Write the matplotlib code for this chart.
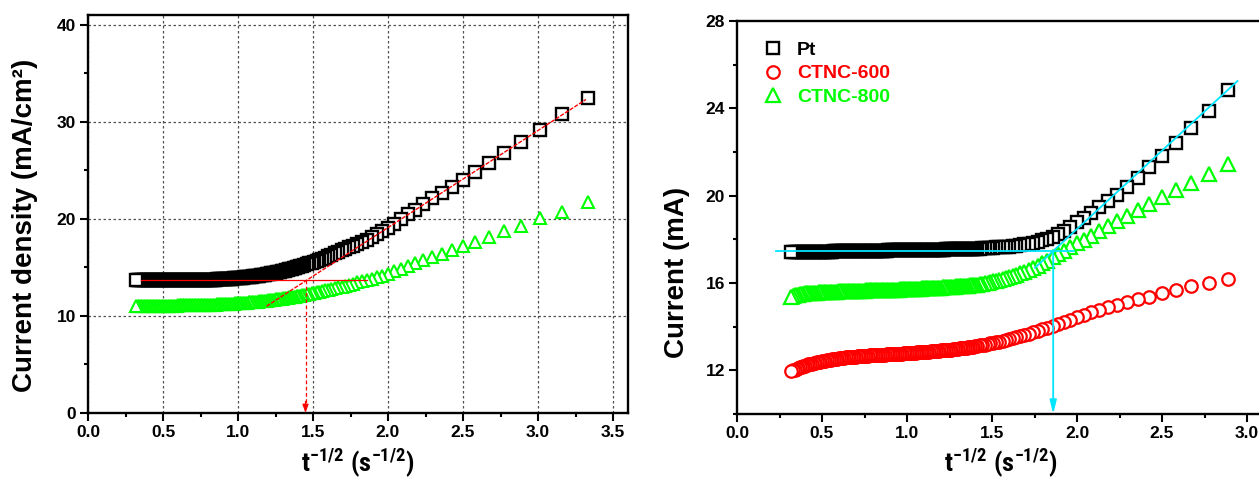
import matplotlib
matplotlib.use("Agg")
import matplotlib.pyplot as plt
from matplotlib import font_manager
from matplotlib.ticker import MultipleLocator, FormatStrFormatter


def font_available(name):
    try:
        font_manager.findfont(font_manager.FontProperties(family=name),
                              fallback_to_default=False)
        return True
    except Exception:
        return False


BASE_FONT = "Liberation Sans"
NARROW_FONT = BASE_FONT
for candidate in ("Liberation Sans Narrow", "Roboto Condensed",
                  "Open Sans Condensed", "DejaVu Sans Condensed"):
    if font_available(candidate):
        NARROW_FONT = candidate
        break

plt.rcParams["font.family"] = [BASE_FONT, "DejaVu Sans"]
plt.rcParams["font.weight"] = "bold"
plt.rcParams["mathtext.fontset"] = "custom"
plt.rcParams["mathtext.rm"] = NARROW_FONT + ":bold"
plt.rcParams["mathtext.bf"] = NARROW_FONT + ":bold"
plt.rcParams["mathtext.it"] = NARROW_FONT + ":bold"

# ---------------------------------------------------------------------------
# Data: t^-1/2 (s^-1/2) on x, listed in acquisition order (decreasing x)
# ---------------------------------------------------------------------------
x_density = [
    3.333, 3.162, 3.015, 2.887, 2.774, 2.673, 2.582, 2.500, 2.425, 2.357,
    2.294, 2.236, 2.182, 2.132, 2.085, 2.041, 2.000, 1.961, 1.925, 1.890,
    1.857, 1.826, 1.796, 1.768, 1.741, 1.715, 1.690, 1.667, 1.644, 1.622,
    1.601, 1.581, 1.562, 1.543, 1.525, 1.508, 1.491, 1.474, 1.459, 1.443,
    1.429, 1.414,
    1.40, 1.39, 1.38, 1.37, 1.36, 1.35, 1.34, 1.33, 1.32, 1.31,
    1.30, 1.29, 1.28, 1.27, 1.26, 1.25, 1.24, 1.23, 1.22, 1.21,
    1.20, 1.19, 1.18, 1.17, 1.16, 1.15, 1.14, 1.13, 1.12, 1.11,
    1.10, 1.09, 1.08, 1.07, 1.06, 1.05, 1.04, 1.03, 1.02, 1.01,
    1.00, 0.99, 0.98, 0.97, 0.96, 0.95, 0.94, 0.93, 0.92, 0.91,
    0.90, 0.89, 0.88, 0.87, 0.86, 0.85, 0.84, 0.83, 0.82, 0.81,
    0.80, 0.79, 0.78, 0.77, 0.76, 0.75, 0.74, 0.73, 0.72, 0.71,
    0.70, 0.69, 0.68, 0.67, 0.66, 0.65, 0.64, 0.63, 0.62, 0.61,
    0.60, 0.59, 0.58, 0.57, 0.56, 0.55, 0.54, 0.53, 0.52, 0.51,
    0.50, 0.49, 0.48, 0.47, 0.46, 0.45, 0.44, 0.43, 0.42, 0.41,
    0.40, 0.39, 0.38, 0.37, 0.36, 0.35, 0.34, 0.33, 0.32,
]

# Current density (mA/cm2)
jd_pt = [
    32.5, 30.8, 29.2, 27.9, 26.75, 25.75, 24.85, 24.0, 23.3, 22.7,
    22.1, 21.5, 20.95, 20.45, 19.95, 19.45, 19.05, 18.7, 18.4, 18.1,
    17.85, 17.65, 17.45, 17.25, 17.05, 16.9, 16.75, 16.6, 16.45, 16.3,
    16.15, 16.0, 15.9, 15.8, 15.7, 15.6, 15.5, 15.42, 15.35, 15.25,
    15.18, 15.1,
    15.05, 15.0, 14.95, 14.91, 14.87, 14.83, 14.79, 14.75, 14.71, 14.67,
    14.64, 14.6, 14.57, 14.53, 14.5, 14.47, 14.44, 14.41, 14.38, 14.35,
    14.32, 14.29, 14.26, 14.23, 14.21, 14.18, 14.16, 14.13, 14.11, 14.09,
    14.07, 14.05, 14.03, 14.01, 13.99, 13.97, 13.96, 13.94, 13.93, 13.91,
    13.9, 13.88, 13.87, 13.86, 13.85, 13.84, 13.83, 13.82, 13.81, 13.8,
    13.79, 13.78, 13.77, 13.76, 13.76, 13.75, 13.75, 13.74, 13.74, 13.73,
    13.73, 13.72, 13.72, 13.71, 13.71, 13.7, 13.7, 13.7, 13.7, 13.69,
    13.69, 13.69, 13.69, 13.68, 13.68, 13.68, 13.68, 13.68, 13.68, 13.67,
    13.67, 13.67, 13.67, 13.67, 13.67, 13.67, 13.67, 13.66, 13.66, 13.66,
    13.66, 13.66, 13.66, 13.66, 13.66, 13.66, 13.66, 13.66, 13.66, 13.66,
    13.66, 13.66, 13.67, 13.67, 13.68, 13.69, 13.7, 13.71, 13.72,
]
jd_ctnc800 = [
    21.7, 20.75, 20.05, 19.3, 18.7, 18.1, 17.6, 17.2, 16.8, 16.4,
    16.1, 15.75, 15.45, 15.15, 14.85, 14.6, 14.35, 14.15, 14.0, 13.85,
    13.72, 13.58, 13.45, 13.33, 13.22, 13.12, 13.02, 12.93, 12.85, 12.77,
    12.7, 12.63, 12.56, 12.5, 12.44, 12.38, 12.33, 12.28, 12.23, 12.18,
    12.14, 12.1,
    12.06, 12.03, 12.0, 11.97, 11.95, 11.92, 11.9, 11.87, 11.85, 11.82,
    11.8, 11.78, 11.76, 11.74, 11.72, 11.7, 11.68, 11.66, 11.64, 11.62,
    11.6, 11.58, 11.56, 11.54, 11.53, 11.51, 11.5, 11.48, 11.47, 11.45,
    11.44, 11.42, 11.41, 11.39, 11.38, 11.37, 11.36, 11.34, 11.33, 11.32,
    11.31, 11.3, 11.29, 11.28, 11.27, 11.26, 11.25, 11.24, 11.23, 11.22,
    11.21, 11.2, 11.2, 11.19, 11.18, 11.17, 11.17, 11.16, 11.16, 11.15,
    11.15, 11.14, 11.14, 11.13, 11.13, 11.12, 11.12, 11.11, 11.11, 11.1,
    11.1, 11.1, 11.1, 11.09, 11.09, 11.09, 11.09, 11.08, 11.08, 11.08,
    11.08, 11.07, 11.07, 11.07, 11.07, 11.07, 11.07, 11.06, 11.06, 11.06,
    11.06, 11.06, 11.06, 11.06, 11.06, 11.05, 11.05, 11.05, 11.05, 11.05,
    11.05, 11.05, 11.05, 11.05, 11.05, 11.04, 11.04, 11.02, 11.0,
]

# Guide lines on the current-density panel
density_fit_x = [1.19, 3.32]
density_fit_y = [11.0, 32.3]
density_plateau_x = [0.35, 1.86]
density_plateau_y = 13.7
density_cross_x = 1.45

x_current = [
    2.887, 2.774, 2.673, 2.582, 2.500, 2.425, 2.357, 2.294, 2.236, 2.182,
    2.132, 2.085, 2.041, 2.000, 1.961, 1.925, 1.890, 1.857, 1.826, 1.796,
    1.768, 1.741, 1.715, 1.690, 1.667, 1.644, 1.622, 1.601, 1.581, 1.562,
    1.543, 1.525, 1.508, 1.491, 1.474, 1.459, 1.443, 1.429, 1.414,
    1.40, 1.39, 1.38, 1.37, 1.36, 1.35, 1.34, 1.33, 1.32, 1.31,
    1.30, 1.29, 1.28, 1.27, 1.26, 1.25, 1.24, 1.23, 1.22, 1.21,
    1.20, 1.19, 1.18, 1.17, 1.16, 1.15, 1.14, 1.13, 1.12, 1.11,
    1.10, 1.09, 1.08, 1.07, 1.06, 1.05, 1.04, 1.03, 1.02, 1.01,
    1.00, 0.99, 0.98, 0.97, 0.96, 0.95, 0.94, 0.93, 0.92, 0.91,
    0.90, 0.89, 0.88, 0.87, 0.86, 0.85, 0.84, 0.83, 0.82, 0.81,
    0.80, 0.79, 0.78, 0.77, 0.76, 0.75, 0.74, 0.73, 0.72, 0.71,
    0.70, 0.69, 0.68, 0.67, 0.66, 0.65, 0.64, 0.63, 0.62, 0.61,
    0.60, 0.59, 0.58, 0.57, 0.56, 0.55, 0.54, 0.53, 0.52, 0.51,
    0.50, 0.49, 0.48, 0.47, 0.46, 0.45, 0.44, 0.43, 0.42, 0.41,
    0.40, 0.39, 0.38, 0.37, 0.36, 0.35, 0.34, 0.33, 0.32,
]

# Current (mA)
i_pt = [
    24.85, 23.9, 23.1, 22.4, 21.8, 21.3, 20.8, 20.4, 20.05, 19.75,
    19.48, 19.22, 18.98, 18.78, 18.58, 18.4, 18.25, 18.12, 18.03, 17.96,
    17.9, 17.85, 17.8, 17.77, 17.74, 17.71, 17.69, 17.67, 17.66, 17.65,
    17.64, 17.63, 17.62, 17.61, 17.6, 17.6, 17.59, 17.58, 17.58,
    17.57, 17.57, 17.57, 17.56, 17.56, 17.56, 17.56, 17.55, 17.55, 17.55,
    17.55, 17.55, 17.54, 17.54, 17.54, 17.54, 17.54, 17.54, 17.53, 17.53,
    17.53, 17.53, 17.53, 17.53, 17.52, 17.52, 17.52, 17.52, 17.52, 17.52,
    17.51, 17.51, 17.51, 17.51, 17.51, 17.51, 17.5, 17.5, 17.5, 17.5,
    17.5, 17.5, 17.5, 17.5, 17.49, 17.49, 17.49, 17.49, 17.49, 17.49,
    17.49, 17.49, 17.48, 17.48, 17.48, 17.48, 17.48, 17.48, 17.48, 17.48,
    17.47, 17.47, 17.47, 17.47, 17.47, 17.47, 17.47, 17.47, 17.46, 17.46,
    17.46, 17.46, 17.46, 17.46, 17.46, 17.46, 17.45, 17.45, 17.45, 17.45,
    17.45, 17.45, 17.45, 17.45, 17.44, 17.44, 17.44, 17.44, 17.44, 17.44,
    17.44, 17.44, 17.43, 17.43, 17.43, 17.43, 17.43, 17.43, 17.43, 17.43,
    17.42, 17.42, 17.42, 17.42, 17.42, 17.42, 17.42, 17.42, 17.42,
]
i_ctnc600 = [
    16.2, 16.02, 15.86, 15.68, 15.52, 15.38, 15.25, 15.13, 15.01, 14.89,
    14.77, 14.65, 14.54, 14.43, 14.32, 14.22, 14.13, 14.04, 13.96, 13.88,
    13.81, 13.74, 13.68, 13.62, 13.57, 13.52, 13.47, 13.43, 13.39, 13.35,
    13.32, 13.29, 13.26, 13.23, 13.2, 13.18, 13.16, 13.14, 13.12,
    13.1, 13.08, 13.07, 13.06, 13.05, 13.04, 13.03, 13.02, 13.01, 13.0,
    12.99, 12.98, 12.97, 12.96, 12.95, 12.94, 12.94, 12.93, 12.92, 12.91,
    12.91, 12.9, 12.89, 12.88, 12.88, 12.87, 12.87, 12.86, 12.85, 12.84,
    12.84, 12.83, 12.83, 12.82, 12.82, 12.81, 12.81, 12.8, 12.8, 12.79,
    12.79, 12.78, 12.78, 12.77, 12.77, 12.76, 12.76, 12.75, 12.75, 12.74,
    12.74, 12.73, 12.73, 12.72, 12.72, 12.71, 12.71, 12.7, 12.7, 12.69,
    12.69, 12.68, 12.68, 12.67, 12.67, 12.66, 12.66, 12.65, 12.65, 12.64,
    12.63, 12.62, 12.62, 12.61, 12.6, 12.59, 12.59, 12.58, 12.57, 12.56,
    12.55, 12.54, 12.53, 12.52, 12.51, 12.49, 12.48, 12.46, 12.45, 12.43,
    12.42, 12.4, 12.39, 12.37, 12.35, 12.33, 12.31, 12.29, 12.27, 12.25,
    12.22, 12.19, 12.16, 12.13, 12.1, 12.07, 12.03, 12.0, 11.97,
]
i_ctnc800 = [
    21.45, 21.0, 20.6, 20.25, 19.92, 19.62, 19.33, 19.05, 18.82, 18.6,
    18.38, 18.17, 17.98, 17.82, 17.65, 17.48, 17.32, 17.17, 17.03, 16.9,
    16.79, 16.69, 16.6, 16.52, 16.45, 16.38, 16.32, 16.27, 16.22, 16.18,
    16.14, 16.1, 16.07, 16.04, 16.01, 15.99, 15.97, 15.95, 15.93,
    15.92, 15.91, 15.9, 15.89, 15.88, 15.88, 15.87, 15.86, 15.85, 15.85,
    15.84, 15.84, 15.83, 15.83, 15.82, 15.82, 15.81, 15.81, 15.8, 15.8,
    15.79, 15.79, 15.78, 15.78, 15.77, 15.77, 15.76, 15.76, 15.76, 15.75,
    15.75, 15.75, 15.74, 15.74, 15.74, 15.73, 15.73, 15.73, 15.72, 15.72,
    15.72, 15.72, 15.71, 15.71, 15.71, 15.7, 15.7, 15.7, 15.7, 15.69,
    15.69, 15.69, 15.69, 15.68, 15.68, 15.68, 15.68, 15.67, 15.67, 15.67,
    15.67, 15.66, 15.66, 15.66, 15.66, 15.65, 15.65, 15.65, 15.65, 15.64,
    15.64, 15.64, 15.64, 15.63, 15.63, 15.63, 15.63, 15.62, 15.62, 15.62,
    15.62, 15.61, 15.61, 15.6, 15.6, 15.6, 15.6, 15.59, 15.59, 15.58,
    15.58, 15.57, 15.57, 15.56, 15.56, 15.55, 15.55, 15.54, 15.54, 15.53,
    15.52, 15.51, 15.5, 15.49, 15.47, 15.45, 15.43, 15.41, 15.38,
]

# Guide lines on the current panel
current_fit_x = [1.753, 2.944]
current_fit_y = [16.7, 25.25]
current_plateau_x = [0.23, 1.98]
current_plateau_y = 17.47
current_cross_x = 1.86

series_labels = ["Pt", "CTNC-600", "CTNC-800"]

BLACK = "#000000"
RED = "#FF0000"
GREEN = "#00FF00"
CYAN = "#00E5FF"

XLABEL = r"$\mathbf{t^{-1/2}\ (s^{-1/2})}$"
XLABEL_SIZE = 16.5 if NARROW_FONT == BASE_FONT else 19

# ---------------------------------------------------------------------------
fig = plt.figure(figsize=(12.59, 4.90), dpi=100)
W, H = 1259.0, 490.0
ax1 = fig.add_axes([88 / W, 77 / H, 540 / W, 398 / H])
ax2 = fig.add_axes([737 / W, 76 / H, 527 / W, 393 / H])


def style_axes(ax):
    for side in ("top", "right", "bottom", "left"):
        ax.spines[side].set_linewidth(1.7)
    ax.tick_params(which="major", direction="out", length=5.5, width=1.5,
                   labelsize=12.5, pad=3, top=False, right=False)
    ax.tick_params(which="minor", direction="out", length=3.0, width=1.5,
                   top=False, right=False)
    for lbl in ax.get_xticklabels() + ax.get_yticklabels():
        lbl.set_fontweight("bold")


# ---- left panel: current density ----
ax1.set_xlim(0, 3.6)
ax1.set_ylim(0, 41)
ax1.xaxis.set_major_locator(MultipleLocator(0.5))
ax1.xaxis.set_minor_locator(MultipleLocator(0.25))
ax1.yaxis.set_major_locator(MultipleLocator(10))
ax1.yaxis.set_minor_locator(MultipleLocator(5))
ax1.xaxis.set_major_formatter(FormatStrFormatter("%.1f"))
ax1.yaxis.set_major_formatter(FormatStrFormatter("%d"))
ax1.grid(True, which="major", color="#505050", linestyle=(0, (2, 2)),
         linewidth=0.9)
ax1.set_axisbelow(True)

ax1.plot(x_density, jd_pt, linestyle="none", marker="s", markersize=8.5,
         markeredgewidth=1.7, markeredgecolor=BLACK, markerfacecolor="white",
         color=BLACK, zorder=3)
ax1.plot(x_density, jd_ctnc800, linestyle="none", marker="^", markersize=9,
         markeredgewidth=1.5, markeredgecolor=GREEN, markerfacecolor="white",
         color=GREEN, zorder=3)

ax1.plot(density_plateau_x, [density_plateau_y, density_plateau_y],
         color=RED, linewidth=0.9, zorder=4)
ax1.plot(density_fit_x, density_fit_y, color=RED, linewidth=1.0,
         linestyle=(0, (3, 1)), zorder=4)
ax1.plot([density_cross_x, density_cross_x], [density_plateau_y, 1.0],
         color=RED, linewidth=0.9, linestyle=(0, (3, 2)), zorder=4)
ax1.annotate("", xy=(density_cross_x, 0.0), xytext=(density_cross_x, 1.2),
             arrowprops=dict(arrowstyle="-|>,head_width=0.18,head_length=0.5",
                             color=RED, lw=0.9, shrinkA=0, shrinkB=0),
             zorder=4)

ax1.set_ylabel("Current density (mA/cm\u00b2)", fontsize=20,
               fontweight="bold")
ax1.yaxis.set_label_coords(-0.093, 0.472)
ax1.set_xlabel(XLABEL, fontsize=XLABEL_SIZE)
ax1.xaxis.set_label_coords(0.5, -0.083)
style_axes(ax1)

# ---- right panel: current ----
ax2.set_xlim(0, 3.1)
ax2.set_ylim(10, 28)
ax2.xaxis.set_major_locator(MultipleLocator(0.5))
ax2.xaxis.set_minor_locator(MultipleLocator(0.25))
ax2.yaxis.set_major_locator(MultipleLocator(4))
ax2.yaxis.set_minor_locator(MultipleLocator(2))
ax2.xaxis.set_major_formatter(FormatStrFormatter("%.1f"))
ax2.yaxis.set_major_formatter(FormatStrFormatter("%d"))

h_pt, = ax2.plot(x_current, i_pt, linestyle="none", marker="s",
                 markersize=8.5, markeredgewidth=1.7, markeredgecolor=BLACK,
                 markerfacecolor="white", color=BLACK, zorder=3,
                 label=series_labels[0])
h_600, = ax2.plot(x_current, i_ctnc600, linestyle="none", marker="o",
                  markersize=9, markeredgewidth=1.6, markeredgecolor=RED,
                  markerfacecolor="white", color=RED, zorder=3,
                  label=series_labels[1])
h_800, = ax2.plot(x_current, i_ctnc800, linestyle="none", marker="^",
                  markersize=10, markeredgewidth=1.6, markeredgecolor=GREEN,
                  markerfacecolor="white", color=GREEN, zorder=3,
                  label=series_labels[2])

ax2.plot(current_plateau_x, [current_plateau_y, current_plateau_y],
         color=CYAN, linewidth=1.3, zorder=4)
ax2.plot(current_fit_x, current_fit_y, color=CYAN, linewidth=1.3, zorder=4)
ax2.annotate("", xy=(current_cross_x, 10.0),
             xytext=(current_cross_x, current_plateau_y),
             arrowprops=dict(arrowstyle="-|>,head_width=0.2,head_length=0.8",
                             color=CYAN, lw=1.3, shrinkA=0, shrinkB=0),
             zorder=4)

leg = ax2.legend(handles=[h_pt, h_600, h_800], loc="upper left",
                 bbox_to_anchor=(0.049, 0.948), frameon=False,
                 prop={"family": BASE_FONT, "weight": "bold", "size": 14},
                 labelcolor="linecolor", handlelength=1.0,
                 handletextpad=0.75, labelspacing=0.3, borderpad=0,
                 borderaxespad=0)

ax2.set_ylabel("Current (mA)", fontsize=20, fontweight="bold")
ax2.yaxis.set_label_coords(-0.089, 0.36)
ax2.set_xlabel(XLABEL, fontsize=XLABEL_SIZE)
ax2.xaxis.set_label_coords(0.5, -0.082)
style_axes(ax2)

fig.savefig("out.png", dpi=100)
